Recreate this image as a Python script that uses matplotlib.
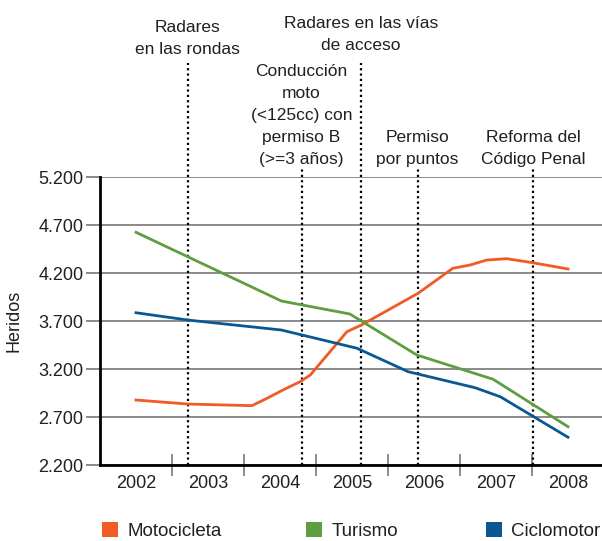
import matplotlib
matplotlib.use("Agg")
import matplotlib.pyplot as plt
import matplotlib.transforms as mtransforms
from matplotlib.patches import Patch

plt.rcParams['font.family'] = ['Liberation Sans Narrow', 'Liberation Sans', 'DejaVu Sans']

# Years on the x axis (categorical, position = index)
years = ['2002', '2003', '2004', '2005', '2006', '2007', '2008']

# Series (x in year index, y in injured people)
moto_x = [0, 0.72, 1.61, 1.82, 2.04, 2.28, 2.42, 2.93, 3.13, 3.92, 4.40, 4.64, 4.87, 5.15, 5.51, 6]
moto_y = [2877, 2835, 2818, 2895, 2981, 3068, 3137, 3589, 3658, 3990, 4249, 4283, 4335, 4349, 4307, 4242]

turismo_x = [0, 2.02, 2.97, 3.90, 4.96, 6]
turismo_y = [4624, 3908, 3773, 3346, 3093, 2599]

ciclo_x = [0, 0.72, 2.02, 3.07, 3.78, 4.71, 5.06, 6]
ciclo_y = [3786, 3710, 3606, 3416, 3172, 3005, 2911, 2489]

# Road safety measures
event_pos = [0.72, 2.30, 3.125, 3.91, 5.52]
event_text = ['Radares\nen las rondas',
              'Conducción\nmoto\n(<125cc) con\npermiso B\n(>=3 años)',
              'Radares en las vías\nde acceso',
              'Permiso\npor puntos',
              'Reforma del\nCódigo Penal']
event_top = [1.396, 1.031, 1.396, 1.031, 1.031]
event_texty = [1.427, 1.045, 1.44, 1.045, 1.045]

yticks = [2200, 2700, 3200, 3700, 4200, 4700, 5200]

c_moto = '#f15a24'
c_tur = '#5e9e40'
c_cic = '#0a5893'
grid_c = '#777777'
txt_c = '#231f20'

fig = plt.figure(figsize=(6.02, 5.41), dpi=100)
ax = fig.add_axes([100 / 602, 76 / 541, 504 / 602, 288 / 541])

ax.set_xlim(-0.5, 6.5)
ax.set_ylim(2200, 5200)

ax.set_yticks(yticks)
ax.set_yticklabels([f'{v:,}'.replace(',', '.') for v in yticks])
ax.grid(axis='y', color=grid_c, linewidth=1.2)
ax.set_axisbelow(True)
ax.tick_params(axis='y', length=10, width=1.2, color=grid_c, pad=2, labelsize=13,
               labelcolor=txt_c)

# year separators as major ticks, year names as minor ticks
ax.set_xticks([i + 0.5 for i in range(len(years) - 1)])
ax.set_xticklabels([])
ax.set_xticks(range(len(years)), minor=True)
ax.set_xticklabels(years, minor=True)
ax.tick_params(axis='x', which='major', direction='inout', length=16, width=1.2, color=grid_c)
ax.tick_params(axis='x', which='minor', length=0, pad=7, labelsize=13, labelcolor=txt_c)

for s in ['top', 'right']:
    ax.spines[s].set_visible(False)
ax.spines['left'].set_linewidth(2)
ax.spines['bottom'].set_linewidth(2)

ax.set_ylabel('Heridos', fontsize=13, color=txt_c)
ax.yaxis.set_label_coords(-0.153, 0.5)

ax.plot(moto_x, moto_y, color=c_moto, linewidth=2, zorder=3)
ax.plot(turismo_x, turismo_y, color=c_tur, linewidth=2, zorder=3)
ax.plot(ciclo_x, ciclo_y, color=c_cic, linewidth=2, zorder=3)

trans = mtransforms.blended_transform_factory(ax.transData, ax.transAxes)
for pos, txt, top, ty in zip(event_pos, event_text, event_top, event_texty):
    ax.plot([pos, pos], [0, top], transform=trans, color='black', linewidth=1.6,
            linestyle=(0, (1, 1.4)), clip_on=False, zorder=2)
    ax.text(pos, ty, txt, transform=trans, ha='center', va='baseline',
            multialignment='center', fontsize=12.5, linespacing=1.58, color=txt_c)

items = [('Motocicleta', c_moto, 102), ('Turismo', c_tur, 306), ('Ciclomotor', c_cic, 486)]
for label, col, xpix in items:
    fig.legend(handles=[Patch(facecolor=col, edgecolor='none', label=label)],
               loc='center left', bbox_to_anchor=(xpix / 602, 10 / 541),
               frameon=False, fontsize=13.5, labelcolor=txt_c, handlelength=0.85,
               handleheight=0.85, handletextpad=0.5, borderpad=0, borderaxespad=0)

fig.savefig('out.png', dpi=100)
